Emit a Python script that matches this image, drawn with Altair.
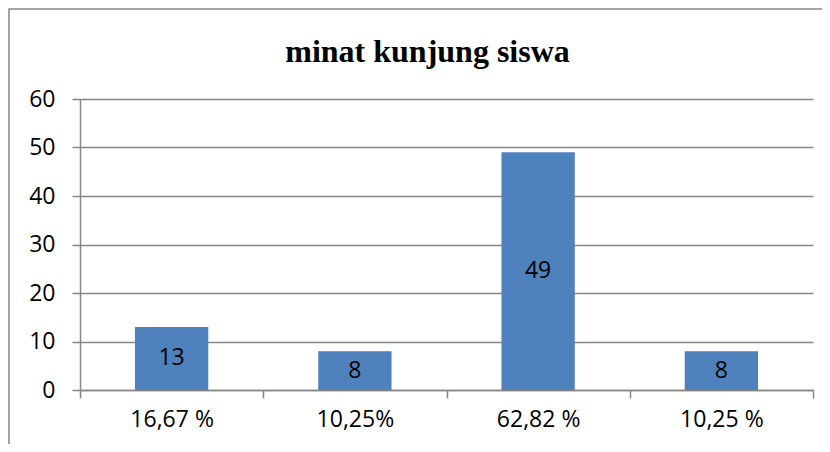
import altair as alt
import pandas as pd

categories = ["16,67 %", "10,25%", "62,82 %", "10,25 %"]
values = [13, 8, 49, 8]
y_ticks = [0, 10, 20, 30, 40, 50, 60]
title_text = "minat kunjung siswa"

df = pd.DataFrame({"kategori": categories, "jumlah": values})
df["mid"] = df["jumlah"] / 2

W, H = 733, 291
PL, PT = 72, 91
PR = 830 - 16 - PL - W
PB = 452 - 16 - PT - H

GRAY = "#868686"
FONT = "Open Sans"

x_enc = alt.X(
    "kategori:N",
    sort=categories,
    scale=alt.Scale(paddingInner=0, paddingOuter=0),
    axis=alt.Axis(
        title=None, labelAngle=0, tickBand="extent", grid=False,
        domainColor=GRAY, tickColor=GRAY, tickSize=8, domainWidth=1.5, tickWidth=1.5,
        labelFont=FONT, labelFontSize=23, labelColor="black", labelPadding=10,
    ),
)
y_enc = alt.Y(
    "jumlah:Q",
    scale=alt.Scale(domain=[0, 60]),
    axis=alt.Axis(
        title=None, values=y_ticks, grid=True, gridColor=GRAY, gridWidth=1.5,
        domainColor=GRAY, tickColor=GRAY, tickSize=8, domainWidth=1.5, tickWidth=1.5,
        labelFont=FONT, labelFontSize=23, labelColor="black", labelPadding=17,
    ),
)

bars = alt.Chart(df).mark_bar(
    color="#4F81BD", width=alt.RelativeBandSize(0.4)
).encode(x=x_enc, y=y_enc)

labels = alt.Chart(df).mark_text(
    font=FONT, fontSize=23, color="black", baseline="middle"
).encode(
    x=alt.X("kategori:N", sort=categories),
    y=alt.Y("mid:Q"),
    text="jumlah:Q",
)

border = alt.Chart(pd.DataFrame({"a": [0]})).mark_rect(
    fillOpacity=0, stroke=GRAY, strokeWidth=1.5
).encode(
    x=alt.value(-PL + 1), x2=alt.value(W + 200),
    y=alt.value(-PT + 1), y2=alt.value(H + 200),
)

chart = alt.layer(border, bars, labels).properties(
    width=W, height=H,
    autosize=alt.AutoSizeParams(type="none"),
    padding={"left": PL, "top": PT, "right": PR, "bottom": PB},
    title=alt.TitleParams(
        title_text, font="Liberation Serif", fontSize=32, fontWeight="bold",
        color="black", anchor="middle", offset=-61, dx=-19,
    ),
).configure_view(strokeWidth=0)

chart.save("out.html", embed_options={"renderer": "svg", "actions": False})
